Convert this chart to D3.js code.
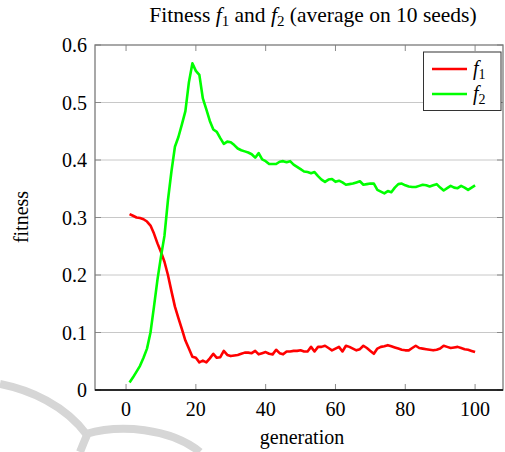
<!DOCTYPE html>
<html>
<head>
<meta charset="utf-8">
<script src="https://cdn.jsdelivr.net/npm/d3@7"></script>
<style>
  body { margin: 0; background: #fff; }
  svg text { font-family: "Liberation Serif", "DejaVu Serif", serif; }
</style>
</head>
<body>
<svg id="chart" width="505" height="452"></svg>
<script>
// generations 1..100
var generations = d3.range(1, 101);

// f1 averaged on 10 seeds
var f1 = [0.306, 0.303, 0.300, 0.299, 0.297, 0.293, 0.286, 0.272, 0.255, 0.240,
  0.223, 0.200, 0.172, 0.145, 0.125, 0.106, 0.086, 0.072, 0.058, 0.056,
  0.048, 0.051, 0.048, 0.055, 0.063, 0.056, 0.057, 0.068, 0.061, 0.059,
  0.060, 0.061, 0.063, 0.065, 0.065, 0.064, 0.068, 0.062, 0.064, 0.066,
  0.063, 0.062, 0.070, 0.064, 0.062, 0.067, 0.067, 0.068, 0.068, 0.069,
  0.067, 0.067, 0.075, 0.067, 0.075, 0.075, 0.077, 0.073, 0.069, 0.072,
  0.075, 0.067, 0.077, 0.075, 0.072, 0.069, 0.071, 0.077, 0.073, 0.068,
  0.063, 0.072, 0.075, 0.076, 0.078, 0.076, 0.074, 0.072, 0.070, 0.069,
  0.069, 0.073, 0.077, 0.073, 0.072, 0.071, 0.070, 0.069, 0.070, 0.072,
  0.077, 0.075, 0.073, 0.074, 0.075, 0.073, 0.071, 0.070, 0.068, 0.066];

// f2 averaged on 10 seeds
var f2 = [0.013, 0.022, 0.032, 0.042, 0.056, 0.072, 0.100, 0.145, 0.192, 0.232,
  0.268, 0.330, 0.380, 0.423, 0.440, 0.462, 0.485, 0.535, 0.568, 0.555,
  0.548, 0.507, 0.488, 0.468, 0.453, 0.449, 0.438, 0.428, 0.432, 0.431,
  0.426, 0.420, 0.417, 0.415, 0.413, 0.410, 0.404, 0.412, 0.401, 0.398,
  0.393, 0.393, 0.393, 0.397, 0.398, 0.396, 0.398, 0.392, 0.388, 0.384,
  0.380, 0.379, 0.377, 0.379, 0.372, 0.366, 0.362, 0.366, 0.367, 0.362,
  0.364, 0.361, 0.357, 0.358, 0.359, 0.361, 0.363, 0.357, 0.358, 0.359,
  0.359, 0.348, 0.345, 0.342, 0.346, 0.344, 0.352, 0.358, 0.359, 0.356,
  0.354, 0.353, 0.353, 0.355, 0.357, 0.356, 0.354, 0.356, 0.358, 0.352,
  0.347, 0.351, 0.355, 0.352, 0.351, 0.355, 0.352, 0.348, 0.352, 0.356];

var xTicks = [0, 20, 40, 60, 80, 100];
var yTicks = [0, 0.1, 0.2, 0.3, 0.4, 0.5, 0.6];
var seriesNames = ["1", "2"];
var seriesColors = ["#ff0000", "#00ff00"];

var svg = d3.select("#chart");
var plotL = 95, plotR = 503, plotT = 45, plotB = 390;

var x = d3.scaleLinear().domain([-8.9, 108]).range([plotL, plotR]);
var y = d3.scaleLinear().domain([0, 0.6]).range([plotB, plotT]);

// faint watermark in the background
var wm = svg.append("g").attr("fill", "none").attr("stroke", "#d6d6d6")
  .attr("stroke-width", 8);
wm.append("path").attr("d", "M0,384 C30,390 65,405 87,435");
wm.append("path").attr("d", "M86,434 C120,424 170,428 200,452");
wm.append("path").attr("d", "M87,435 C84,442 82,447 80,452");

// grid
svg.append("g").selectAll("line")
  .data(yTicks.filter(function(d) { return d > 0 && d < 0.6; }))
  .enter().append("line")
  .attr("x1", plotL).attr("x2", plotR)
  .attr("y1", function(d) { return y(d); }).attr("y2", function(d) { return y(d); })
  .attr("stroke", "#c8c8c8").attr("stroke-width", 1);

// ticks (inward, on all four sides)
var tk = svg.append("g").attr("stroke", "#8a8a8a").attr("stroke-width", 1);
xTicks.forEach(function(t) {
  tk.append("line").attr("x1", x(t)).attr("x2", x(t)).attr("y1", plotB).attr("y2", plotB - 6);
  tk.append("line").attr("x1", x(t)).attr("x2", x(t)).attr("y1", plotT).attr("y2", plotT + 6);
});
yTicks.forEach(function(t) {
  tk.append("line").attr("x1", plotL).attr("x2", plotL + 6).attr("y1", y(t)).attr("y2", y(t));
  tk.append("line").attr("x1", plotR).attr("x2", plotR - 6).attr("y1", y(t)).attr("y2", y(t));
});

// series lines
var line = d3.line()
  .x(function(d, i) { return x(generations[i]); })
  .y(function(d) { return y(d); });

[f1, f2].forEach(function(s, i) {
  svg.append("path").datum(s)
    .attr("fill", "none")
    .attr("stroke", seriesColors[i])
    .attr("stroke-width", 2.6)
    .attr("stroke-linejoin", "round")
    .attr("d", line);
});

// frame
svg.append("rect").attr("x", plotL).attr("y", plotT)
  .attr("width", plotR - plotL).attr("height", plotB - plotT)
  .attr("fill", "none").attr("stroke", "#7a7a7a").attr("stroke-width", 1.3);
svg.append("line").attr("x1", plotL).attr("x2", plotR).attr("y1", plotB).attr("y2", plotB)
  .attr("stroke", "#000").attr("stroke-width", 1.5);

// tick labels
svg.append("g").selectAll("text").data(xTicks).enter().append("text")
  .attr("x", function(d) { return x(d); }).attr("y", plotB + 26)
  .attr("text-anchor", "middle").attr("font-size", 20)
  .text(function(d) { return d; });

svg.append("g").selectAll("text").data(yTicks).enter().append("text")
  .attr("x", plotL - 8).attr("y", function(d) { return y(d) + 7; })
  .attr("text-anchor", "end").attr("font-size", 20)
  .text(function(d) { return d === 0 ? "0" : d3.format(".1f")(d); });

// axis labels
svg.append("text").attr("x", 302).attr("y", 444)
  .attr("text-anchor", "middle").attr("font-size", 20).text("generation");
svg.append("text").attr("transform", "translate(28,217) rotate(-90)")
  .attr("text-anchor", "middle").attr("font-size", 20).text("fitness");

// title
var title = svg.append("text").attr("x", 313).attr("y", 22)
  .attr("text-anchor", "middle").attr("font-size", 21.5);
title.append("tspan").text("Fitness ");
title.append("tspan").attr("font-style", "italic").text("f");
title.append("tspan").attr("font-size", 15).attr("dy", 4).text("1");
title.append("tspan").attr("dy", -4).text(" and ");
title.append("tspan").attr("font-style", "italic").text("f");
title.append("tspan").attr("font-size", 15).attr("dy", 4).text("2");
title.append("tspan").attr("dy", -4).text(" (average on 10 seeds)");

// legend
var lg = svg.append("g");
lg.append("rect").attr("x", 423.5).attr("y", 52).attr("width", 77.5).attr("height", 58.5)
  .attr("fill", "#fff").attr("stroke", "#333").attr("stroke-width", 1);
seriesNames.forEach(function(n, i) {
  var ly = 69 + i * 25;
  lg.append("line").attr("x1", 432).attr("x2", 467).attr("y1", ly).attr("y2", ly)
    .attr("stroke", seriesColors[i]).attr("stroke-width", 2.6);
  var t = lg.append("text").attr("x", 473).attr("y", ly + 6).attr("font-size", 20);
  t.append("tspan").attr("font-style", "italic").text("f");
  t.append("tspan").attr("font-size", 14).attr("dy", 4).text(n);
});
</script>
</body>
</html>
